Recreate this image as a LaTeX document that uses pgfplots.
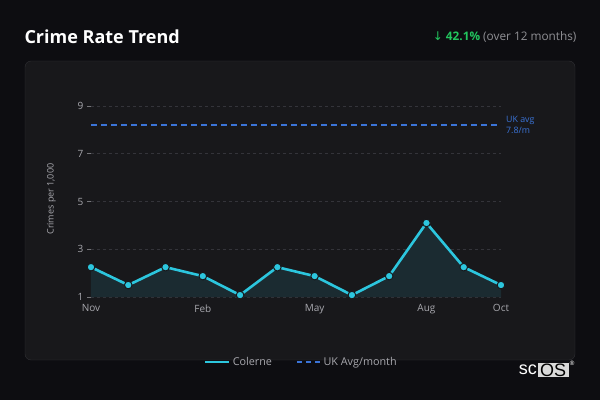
\documentclass[border=0pt]{standalone}
\usepackage{fontspec}
\setmainfont{Open Sans}
\newfontfamily\dejavu{DejaVu Sans}
\newfontfamily\logofont{Liberation Sans}
\usepackage{pgfplots}
\pgfplotsset{compat=1.18}

\definecolor{pagebg}{HTML}{0D0D11}
\definecolor{cardbg}{HTML}{18181B}
\definecolor{cardline}{HTML}{303034}
\definecolor{linecyan}{HTML}{2CC6DE}
\definecolor{areafill}{HTML}{1B2B31}
\definecolor{ukblue}{HTML}{3B74D8}
\definecolor{ticktxt}{HTML}{A8A8AE}
\definecolor{gridc}{HTML}{34343A}
\definecolor{upgreen}{HTML}{22C55E}

\pgfplotstableread{
idx val
0 2.25
1 1.5
2 2.25
3 1.875
4 1.08
5 2.25
6 1.875
7 1.08
8 1.875
9 4.1
10 2.25
11 1.5
}\crimes

\begin{document}
\begin{tikzpicture}[x=1pt,y=1pt]
\fill[pagebg] (0,0) rectangle (600,400);
\useasboundingbox (0,0) rectangle (600,400);
% card
\draw[cardline,fill=cardbg,rounded corners=6pt] (25,40) rectangle (575,339);
% header
\node[anchor=west,text=white,font=\fontsize{18}{20}\selectfont\bfseries] at (21,363) {Crime Rate Trend};
\node[anchor=east,font=\fontsize{11.8}{13}\selectfont] at (580,363)
  {\textcolor{upgreen}{{\dejavu\fontsize{12}{13}\selectfont ↓} \bfseries 42.1\%} \textcolor{ticktxt!85!black}{(over 12 months)}};

\begin{axis}[
    at={(91pt,103pt)}, anchor=south west,
    scale only axis,
    width=410pt, height=195.8pt,
    xmin=0, xmax=11, ymin=1, ymax=9.2,
    axis line style={draw=none},
    xtick={0,3,6,9,11},
    xticklabels={Nov,Feb,May,Aug,Oct},
    ytick={1,3,5,7,9},
    tick pos=left,
    xtick style={draw=none},
    ytick style={draw=ticktxt!70!black, line width=0.6pt},
    tick align=outside,
    major tick length=4pt,
    ymajorgrids,
    grid style={gridc, dash pattern=on 3pt off 3pt, line width=0.5pt},
    ticklabel style={text=ticktxt, font=\fontsize{10}{11}\selectfont},
    /pgf/number format/assume math mode=true,
    ylabel={Crimes per 1,000},
    ylabel style={text=ticktxt, font=\fontsize{9}{10}\selectfont, yshift=15pt},
    clip=false,
    legend style={at={(0.513,-0.332)}, anchor=center, draw=none, fill=none,
      text=ticktxt, font=\fontsize{10.8}{12}\selectfont, legend columns=2,
      /tikz/every even column/.append style={column sep=22pt}},
    legend image code/.code={\draw[#1] (0pt,0pt) -- (24pt,0pt);},
]
\addplot[draw=none, fill=areafill, forget plot] table[x=idx,y=val] {\crimes} \closedcycle;
\addplot[ukblue, line width=1.4pt, dash pattern=on 6pt off 4pt, forget plot]
  coordinates {(0,8.2) (11,8.2)};
\addplot[linecyan, line width=2.6pt, mark=*, mark size=3.8pt,
  mark options={fill=linecyan, draw=cardbg, line width=1pt}, forget plot]
  table[x=idx,y=val] {\crimes};
\addlegendimage{linecyan, line width=2.8pt}
\addlegendentry{Colerne}
\addlegendimage{ukblue, line width=1.6pt, dash pattern=on 5pt off 4pt}
\addlegendentry{UK Avg/month}
\node[anchor=west, text=ukblue, align=left, font=\fontsize{8.8}{10.5}\selectfont, inner sep=0pt]
  at (axis cs:11,8.2) [xshift=5pt] {UK avg\\7.8/m};
\end{axis}

% logo
\node[anchor=east, text=white, font=\logofont\fontsize{18}{19}\selectfont, inner sep=0pt] at (537,30) {sc};
\node[anchor=west, fill=white!85!black, text=black, font=\logofont\fontsize{18}{19}\selectfont, inner xsep=2.5pt, inner ysep=0.5pt] at (537.5,30) {OS};
\node[text=white, font=\fontsize{6}{7}\selectfont, inner sep=0pt] at (572,37) {®};
\end{tikzpicture}
\end{document}
